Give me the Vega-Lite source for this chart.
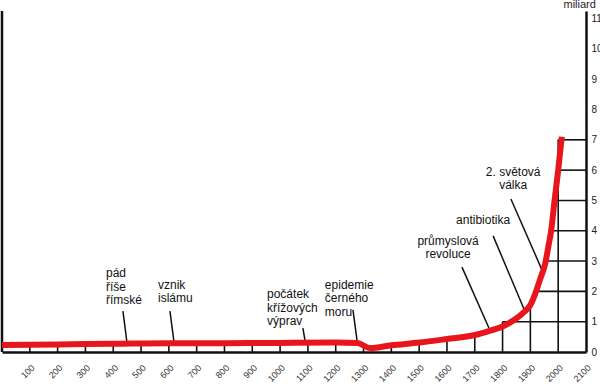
{
  "$schema": "https://vega.github.io/schema/vega-lite/v6.json",
  "width": 584,
  "height": 341,
  "autosize": {"type": "none"},
  "padding": {"left": 2, "top": 11, "right": 14, "bottom": 37},
  "background": "white",
  "config": {"view": {"stroke": null}, "font": "Liberation Sans"},
  "datasets": {
    "curve": [
      {"year": 0, "value": 0.23}, {"year": 200, "value": 0.25}, {"year": 400, "value": 0.27},
      {"year": 600, "value": 0.29}, {"year": 800, "value": 0.29}, {"year": 1000, "value": 0.3},
      {"year": 1200, "value": 0.31}, {"year": 1277, "value": 0.3}, {"year": 1324, "value": 0.13},
      {"year": 1400, "value": 0.22}, {"year": 1500, "value": 0.31}, {"year": 1600, "value": 0.43},
      {"year": 1700, "value": 0.56}, {"year": 1750, "value": 0.69}, {"year": 1800, "value": 0.84},
      {"year": 1840, "value": 1.05}, {"year": 1874, "value": 1.29}, {"year": 1900, "value": 1.55},
      {"year": 1917, "value": 1.91}, {"year": 1935, "value": 2.4}, {"year": 1954, "value": 2.94},
      {"year": 1965, "value": 3.5}, {"year": 1974, "value": 3.96}, {"year": 1987, "value": 5.0},
      {"year": 2000, "value": 6.0}, {"year": 2013, "value": 7.1}
    ],
    "verticals": [
      {"year": 100, "top": 0.24}, {"year": 200, "top": 0.25}, {"year": 300, "top": 0.26},
      {"year": 400, "top": 0.27}, {"year": 500, "top": 0.28}, {"year": 600, "top": 0.29},
      {"year": 700, "top": 0.29}, {"year": 800, "top": 0.29}, {"year": 900, "top": 0.3},
      {"year": 1000, "top": 0.3}, {"year": 1100, "top": 0.3}, {"year": 1200, "top": 0.31},
      {"year": 1300, "top": 0.22}, {"year": 1400, "top": 0.22}, {"year": 1500, "top": 0.31},
      {"year": 1600, "top": 0.43}, {"year": 1700, "top": 0.56}, {"year": 1800, "top": 1.0},
      {"year": 1900, "top": 1.55}, {"year": 2000, "top": 7.0}
    ],
    "horizontals": [
      {"level": 1, "start": 1800}, {"level": 2, "start": 1910}, {"level": 3, "start": 1955},
      {"level": 4, "start": 1974}, {"level": 5, "start": 1987}, {"level": 6, "start": 2000},
      {"level": 7, "start": 2000}
    ],
    "leaders": [
      {"x1": 435, "y1": 1.35, "x2": 449, "y2": 0.33},
      {"x1": 604, "y1": 1.35, "x2": 618, "y2": 0.36},
      {"x1": 1082, "y1": 0.79, "x2": 1090, "y2": 0.36},
      {"x1": 1262, "y1": 1.39, "x2": 1277, "y2": 0.36},
      {"x1": 1654, "y1": 2.8, "x2": 1751, "y2": 0.79},
      {"x1": 1766, "y1": 3.83, "x2": 1877, "y2": 1.42},
      {"x1": 1830, "y1": 5.05, "x2": 1942, "y2": 2.7}
    ],
    "labelsLeft": [
      {"label": "pád\nříše\nřímské", "year": 374, "v": 2.47},
      {"label": "vznik\nislámu", "year": 561, "v": 2.08},
      {"label": "počátek\nkřížových\nvýprav", "year": 953, "v": 1.78},
      {"label": "epidemie\nčerného\nmoru", "year": 1161, "v": 2.08}
    ],
    "labelsCenter": [
      {"label": "průmyslová\nrevoluce", "year": 1604, "v": 3.53},
      {"label": "antibiotika", "year": 1730, "v": 4.22},
      {"label": "2. světová\nválka", "year": 1838, "v": 5.81}
    ]
  },
  "layer": [
    {
      "data": {"name": "verticals"},
      "mark": {"type": "rule", "color": "#111", "strokeWidth": 1.6},
      "encoding": {
        "x": {
          "field": "year", "type": "quantitative",
          "scale": {"domain": [0, 2100], "nice": false, "zero": false},
          "axis": {
            "values": [100,200,300,400,500,600,700,800,900,1000,1100,1200,1300,1400,1500,1600,1700,1800,1900,2000,2100],
            "tickCount": 50,
            "title": null, "grid": false, "ticks": false,
            "domainColor": "#111", "domainWidth": 2.5,
            "labelAngle": -45, "labelFontSize": 9, "labelColor": "#333",
            "labelPadding": 11, "labelDx": 3, "labelFlush": false, "labelOverlap": false,
            "format": "d"
          }
        },
        "y": {
          "field": "top", "type": "quantitative",
          "scale": {"domain": [0, 11.25], "nice": false},
          "axis": {
            "orient": "right", "values": [0,1,2,3,4,5,6,7,8,9,10,11],
            "tickCount": 30, "format": "d",
            "title": "miliard", "titleAngle": 0, "titleX": -23, "titleY": -4,
            "titleAlign": "left", "titleBaseline": "alphabetic",
            "titleFontSize": 11, "titleFontWeight": "normal", "titleColor": "#222",
            "grid": false, "ticks": false, "labelOverlap": false,
            "domainColor": "#111", "domainWidth": 2.5,
            "labelFontSize": 10, "labelColor": "#222", "labelPadding": 5
          }
        },
        "y2": {"datum": 0}
      }
    },
    {
      "data": {"name": "horizontals"},
      "mark": {"type": "rule", "color": "#111", "strokeWidth": 1.6},
      "encoding": {
        "y": {"field": "level", "type": "quantitative"},
        "x": {"field": "start", "type": "quantitative"},
        "x2": {"datum": 2100}
      }
    },
    {
      "data": {"values": [{"frame": 0, "top": 11.25}]},
      "mark": {"type": "rule", "color": "#111", "strokeWidth": 2.5},
      "encoding": {
        "x": {"field": "frame", "type": "quantitative"},
        "y": {"field": "top", "type": "quantitative"},
        "y2": {"datum": 0}
      }
    },
    {
      "data": {"name": "leaders"},
      "mark": {"type": "rule", "color": "#111", "strokeWidth": 1.5},
      "encoding": {
        "x": {"field": "x1", "type": "quantitative"},
        "y": {"field": "y1", "type": "quantitative"},
        "x2": {"field": "x2"},
        "y2": {"field": "y2"}
      }
    },
    {
      "data": {"name": "curve"},
      "mark": {"type": "line", "color": "#e8161c", "strokeWidth": 6, "interpolate": "monotone", "strokeCap": "butt", "strokeJoin": "round"},
      "encoding": {
        "x": {"field": "year", "type": "quantitative"},
        "y": {"field": "value", "type": "quantitative"}
      }
    },
    {
      "data": {"name": "labelsLeft"},
      "mark": {"type": "text", "align": "left", "baseline": "alphabetic", "fontSize": 12, "lineHeight": 13.5, "lineBreak": "\n", "color": "#111"},
      "encoding": {
        "x": {"field": "year", "type": "quantitative"},
        "y": {"field": "v", "type": "quantitative"},
        "text": {"field": "label"}
      }
    },
    {
      "data": {"name": "labelsCenter"},
      "mark": {"type": "text", "align": "center", "baseline": "alphabetic", "fontSize": 12, "lineHeight": 13, "lineBreak": "\n", "color": "#111"},
      "encoding": {
        "x": {"field": "year", "type": "quantitative"},
        "y": {"field": "v", "type": "quantitative"},
        "text": {"field": "label"}
      }
    }
  ]
}
